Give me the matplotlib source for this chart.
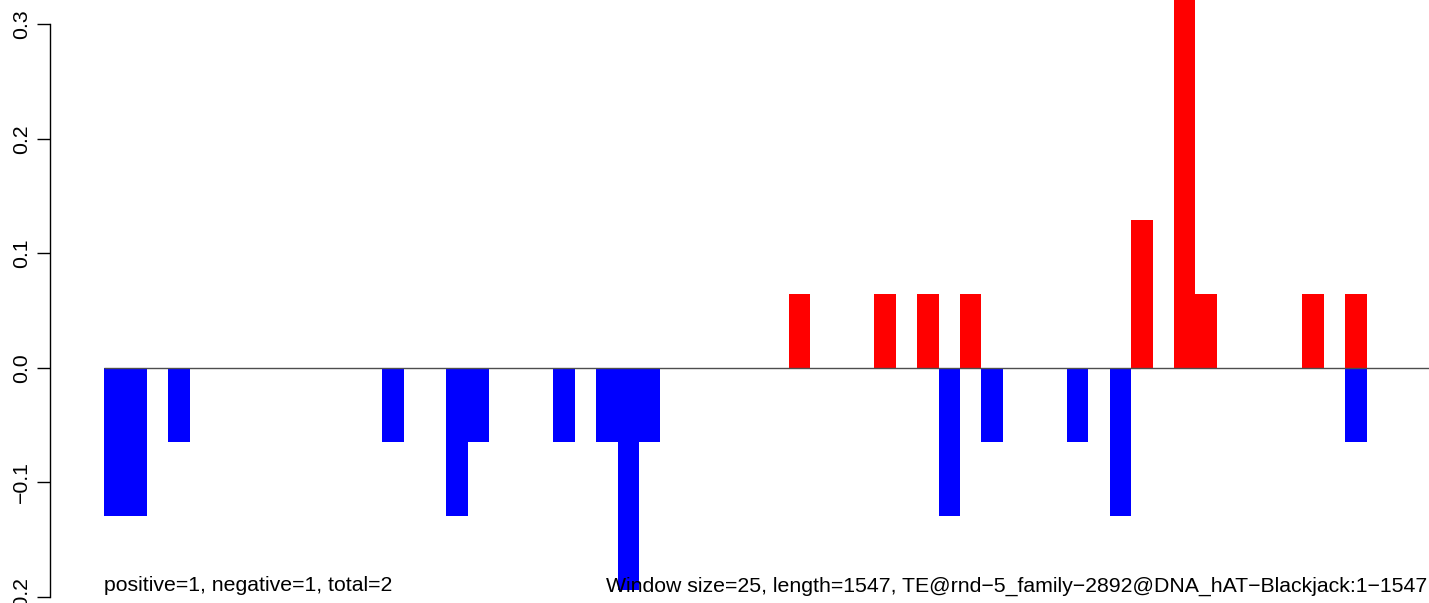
import matplotlib
matplotlib.use("Agg")
from matplotlib import pyplot as plt
import matplotlib.transforms as mtransforms
import numpy as np

plt.rcParams['font.family'] = ['Liberation Sans', 'DejaVu Sans']

# one value per 25 bp window (62 windows), positive strand hits and negative strand hits
positive = np.array([0, 0, 0, 0, 0, 0, 0, 0, 0, 0,
                     0, 0, 0, 0, 0, 0, 0, 0, 0, 0,
                     0, 0, 0, 0, 0, 0, 0, 0, 0, 0,
                     0, 0, 0.0645, 0, 0, 0, 0.0645, 0, 0.0645, 0,
                     0.0645, 0, 0, 0, 0, 0, 0, 0, 0.129, 0,
                     0.3225, 0.0645, 0, 0, 0, 0, 0.0645, 0, 0.0645, 0,
                     0, 0])
negative = np.array([-0.129, -0.129, 0, -0.0645, 0, 0, 0, 0, 0, 0,
                     0, 0, 0, -0.0645, 0, 0, -0.129, -0.0645, 0, 0,
                     0, -0.0645, 0, -0.0645, -0.1935, -0.0645, 0, 0, 0, 0,
                     0, 0, 0, 0, 0, 0, 0, 0, 0, -0.129,
                     0, -0.0645, 0, 0, 0, -0.0645, 0, -0.129, 0, 0,
                     0, 0, 0, 0, 0, 0, 0, 0, -0.0645, 0,
                     0, 0])
yticks = [-0.2, -0.1, 0.0, 0.1, 0.2, 0.3]

left_text = "positive=1, negative=1, total=2"
right_text = "Window size=25, length=1547, TE@rnd\u22125_family\u22122892@DNA_hAT\u2212Blackjack:1\u22121547"

fig = plt.figure(figsize=(14.29, 6.03), dpi=100)
ax = fig.add_axes([0, 0, 1, 1])

x = np.arange(len(positive))
ax.bar(x, positive, width=1.0, align='edge', color='#ff0000', linewidth=0)
ax.bar(x, negative, width=1.0, align='edge', color='#0000ff', linewidth=0)
ax.hlines(0, 0, len(positive), color='#4d4d4d', linewidth=1.0, zorder=5)

ax.set_xlim(-4.86, 61.92)
ax.set_ylim(-0.2052, 0.3211)

for s in ['top', 'right', 'bottom']:
    ax.spines[s].set_visible(False)
ax.spines['left'].set_position(('axes', 0.035))
ax.spines['left'].set_bounds(-0.2, 0.3)
ax.spines['left'].set_linewidth(1.0)
ax.set_xticks([])
ax.set_yticks(yticks)
ax.set_yticklabels([f"{v:.1f}".replace("-", "\u2212") for v in yticks])
ax.tick_params(axis='y', length=9.4, width=1.0, pad=4.5, labelsize=15.3, labelrotation=90)
for lab in ax.get_yticklabels():
    lab.set_va('center')

trans = mtransforms.blended_transform_factory(ax.transAxes, ax.transData)
ax.text(0, -0.195, left_text, fontsize=15.3, ha='left', va='baseline', zorder=6)
ax.text(0.999, -0.195, right_text, fontsize=15.3, ha='right', va='baseline',
        transform=trans, zorder=6)

plt.savefig("out.png", dpi=100)
